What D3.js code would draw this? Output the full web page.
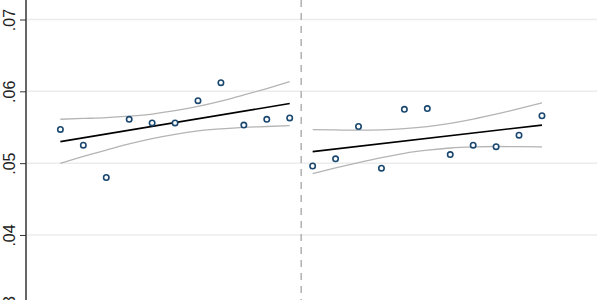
<!DOCTYPE html>
<html>
<head>
<meta charset="utf-8">
<script src="https://cdn.jsdelivr.net/npm/d3@7"></script>
<style>
  html, body { margin: 0; padding: 0; background: #fff; }
  svg { display: block; overflow: hidden; }
</style>
</head>
<body>
<svg id="chart" width="600" height="300"></svg>
<script>
// ---- data ----
const leftX  = [-10.5, -9.5, -8.5, -7.5, -6.5, -5.5, -4.5, -3.5, -2.5, -1.5, -0.5];
const rightX = [0.5, 1.5, 2.5, 3.5, 4.5, 5.5, 6.5, 7.5, 8.5, 9.5, 10.5];
const leftY  = [0.0547, 0.0525, 0.0480, 0.0561, 0.0556, 0.0556, 0.0587, 0.0612, 0.0553, 0.0561, 0.0563];
const rightY = [0.0496, 0.0506, 0.0551, 0.0493, 0.0575, 0.0576, 0.0512, 0.0525, 0.0523, 0.0539, 0.0566];
const leftFit  = [0.0530, 0.0583];   // fitted values at first and last bin
const rightFit = [0.0516, 0.0553];
const leftUpper  = [0.05611, 0.05622, 0.05634, 0.05655, 0.05684, 0.05730, 0.05790, 0.05864, 0.05949, 0.06039, 0.06134];
const leftLower  = [0.04998, 0.05093, 0.05183, 0.05268, 0.05342, 0.05402, 0.05448, 0.05477, 0.05498, 0.05510, 0.05522];
const rightUpper = [0.05466, 0.05462, 0.05459, 0.05464, 0.05480, 0.05509, 0.05554, 0.05613, 0.05683, 0.05758, 0.05838];
const rightLower = [0.04853, 0.04933, 0.05008, 0.05077, 0.05137, 0.05180, 0.05211, 0.05226, 0.05232, 0.05229, 0.05225];
const cutoff = 0;
const yTicks = [0.03, 0.04, 0.05, 0.06, 0.07];
const yTickLabels = [".03", ".04", ".05", ".06", ".07"];

// ---- scales ----
const svg = d3.select("#chart");
const x = d3.scaleLinear().domain([-12, 12.9]).range([26, 597]);
const y = d3.scaleLinear().domain([0.03, 0.07]).range([306.8, 19.5]);

// gridlines
svg.append("g").selectAll("line").data(yTicks).join("line")
  .attr("x1", x.range()[0] + 1).attr("x2", x.range()[1])
  .attr("y1", d => y(d)).attr("y2", d => y(d))
  .attr("stroke", "#ececec").attr("stroke-width", 1.5);

// y axis
const yAxis = d3.axisLeft(y).tickValues(yTicks)
  .tickFormat((d, i) => yTickLabels[i]).tickSize(6).tickPadding(0);
const ga = svg.append("g").attr("transform", `translate(${x.range()[0]},0)`).call(yAxis);
ga.select(".domain").remove();
ga.selectAll(".tick line").attr("stroke", "#333").attr("stroke-width", 1);
ga.selectAll(".tick text")
  .attr("x", null).attr("dy", null)
  .attr("transform", "translate(-11,0) rotate(-90)")
  .attr("text-anchor", "middle")
  .attr("font-family", "'Liberation Sans', Arial, sans-serif")
  .attr("font-size", 16).attr("fill", "#222");
svg.append("line")
  .attr("x1", x.range()[0]).attr("x2", x.range()[0])
  .attr("y1", 0).attr("y2", 300)
  .attr("stroke", "#333").attr("stroke-width", 1.5);

// cutoff dashed line
svg.append("line")
  .attr("x1", x(cutoff)).attr("x2", x(cutoff))
  .attr("y1", 0).attr("y2", 300)
  .attr("stroke", "#b0b0b0").attr("stroke-width", 1.5)
  .attr("stroke-dasharray", "7,6");

// CI curves
const ciLine = d3.line().x(d => x(d[0])).y(d => y(d[1])).curve(d3.curveMonotoneX);
[[leftX, leftUpper], [leftX, leftLower], [rightX, rightUpper], [rightX, rightLower]].forEach(([xs, ys]) => {
  svg.append("path").datum(xs.map((v, i) => [v, ys[i]]))
    .attr("d", ciLine).attr("fill", "none")
    .attr("stroke", "#b4b4b4").attr("stroke-width", 1.3);
});

// fit lines
[[leftX, leftFit], [rightX, rightFit]].forEach(([xs, f]) => {
  svg.append("line")
    .attr("x1", x(xs[0])).attr("y1", y(f[0]))
    .attr("x2", x(xs[xs.length - 1])).attr("y2", y(f[1]))
    .attr("stroke", "#000").attr("stroke-width", 1.6);
});

// points
const pts = leftX.map((v, i) => [v, leftY[i]]).concat(rightX.map((v, i) => [v, rightY[i]]));
svg.append("g").selectAll("circle").data(pts).join("circle")
  .attr("cx", d => x(d[0])).attr("cy", d => y(d[1])).attr("r", 2.7)
  .attr("fill", "#fff").attr("stroke", "#1a476f").attr("stroke-width", 1.6);
</script>
</body>
</html>
